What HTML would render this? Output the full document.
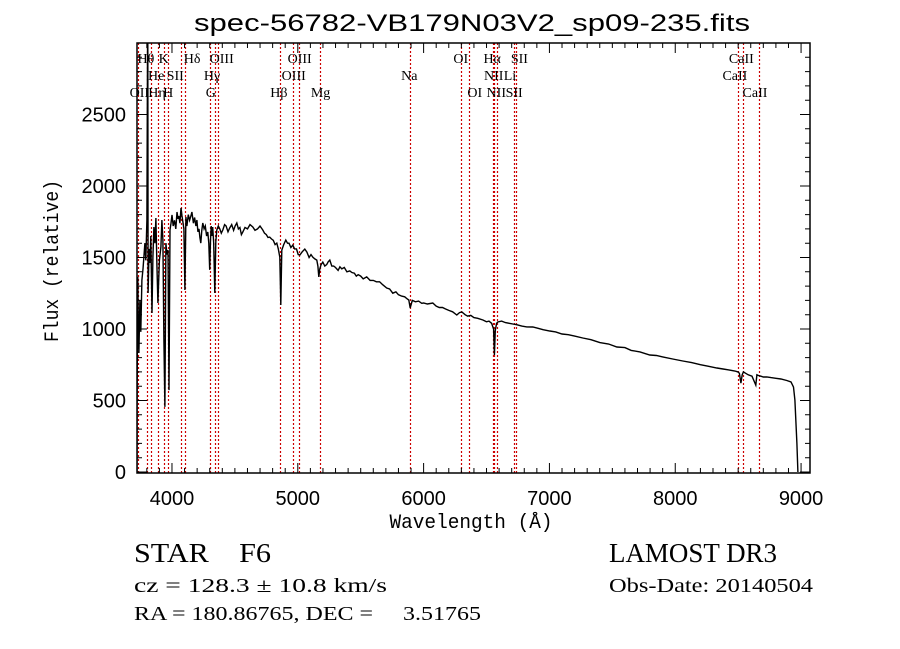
<!DOCTYPE html>
<html><head><meta charset="utf-8"><style>
html,body{margin:0;padding:0;background:#fff;}
svg{display:block;}
</style></head><body>
<svg id="chart" width="900" height="649" xmlns="http://www.w3.org/2000/svg" xml:space="preserve">
<rect x="0" y="0" width="900" height="649" fill="#fff"/>
<text x="472" y="31" font-family="Liberation Sans, sans-serif" font-size="24" text-anchor="middle" textLength="556" lengthAdjust="spacingAndGlyphs">spec-56782-VB179N03V2_sp09-235.fits</text>
<g id="lines"></g>
<g id="labels"></g>
<g id="series"></g>
<g id="axes"></g>
<text x="471" y="528" font-family="Liberation Mono, monospace" font-size="20" text-anchor="middle" textLength="163" lengthAdjust="spacingAndGlyphs">Wavelength (Å)</text>
<text transform="translate(58,261) rotate(-90)" font-family="Liberation Mono, monospace" font-size="20" text-anchor="middle" textLength="162" lengthAdjust="spacingAndGlyphs">Flux (relative)</text>
<text x="134" y="562" font-family="Liberation Serif, serif" font-size="27" textLength="137" lengthAdjust="spacingAndGlyphs">STAR&#160;&#160;&#160;&#160;F6</text>
<text x="609" y="562" font-family="Liberation Serif, serif" font-size="27" textLength="168" lengthAdjust="spacingAndGlyphs">LAMOST DR3</text>
<text x="134" y="592" font-family="Liberation Serif, serif" font-size="20" textLength="253" lengthAdjust="spacingAndGlyphs">cz = 128.3 ± 10.8 km/s</text>
<text x="609" y="592" font-family="Liberation Serif, serif" font-size="20" textLength="204" lengthAdjust="spacingAndGlyphs">Obs-Date: 20140504</text>
<text x="134" y="620" font-family="Liberation Serif, serif" font-size="20" textLength="347" lengthAdjust="spacingAndGlyphs">RA = 180.86765, DEC =&#160;&#160;&#160;&#160;&#160;3.51765</text>
</svg>
<script>
const wavelengths=[3722,3723,3728,3732,3737,3745,3752,3761,3770,3785,3792,3801,3806,3808,3810,3818,3825,3832,3841,3848,3856,3864,3872,3880,3888,3900,3912,3920,3928,3936,3944,3952,3960,3968,3976,3984,3992,4000,4010,4020,4030,4040,4048,4055,4063,4072,4080,4087,4095,4103,4111,4119,4130,4140,4150,4158,4170,4180,4190,4198,4206,4215,4222,4229,4237,4245,4255,4265,4275,4285,4293,4300,4306,4312,4318,4324,4332,4340,4348,4356,4368,4380,4392,4404,4418,4430,4445,4459,4475,4490,4502,4515,4528,4540,4552,4563,4580,4600,4620,4642,4660,4680,4700,4722,4735,4750,4763,4777,4790,4805,4820,4833,4845,4857,4865,4873,4888,4905,4918,4930,4945,4960,4975,4990,5003,5016,5035,5056,5072,5090,5105,5119,5135,5151,5160,5167,5175,5185,5199,5215,5230,5242,5254,5270,5285,5300,5320,5335,5350,5370,5390,5413,5430,5450,5465,5480,5500,5520,5548,5575,5600,5625,5650,5675,5707,5730,5755,5780,5800,5825,5850,5870,5882,5893,5910,5935,5960,5985,6000,6030,6073,6100,6125,6150,6175,6200,6230,6264,6285,6304,6330,6350,6375,6400,6430,6471,6500,6520,6540,6552,6556,6563,6570,6580,6590,6620,6650,6680,6709,6740,6780,6820,6868,6910,6950,7003,7050,7100,7150,7200,7265,7330,7400,7470,7536,7600,7650,7720,7798,7850,7900,7980,8060,8130,8200,8260,8331,8380,8420,8474,8498,8510,8522,8532,8542,8560,8580,8610,8640,8649,8662,8680,8700,8728,8760,8800,8840,8887,8920,8940,8951,8967,8975,8980];
const fluxes=[0,524,1364,1050,832,1200,980,1343,1420,1601,1480,1762,3100,3100,1252,1560,1462,1650,1112,1500,1713,1600,1776,1450,1182,1480,1573,1762,1620,923,455,1601,1520,1552,573,1692,1740,1797,1720,1760,1700,1818,1770,1790,1740,1846,1790,1748,1700,1273,1783,1720,1800,1760,1790,1818,1740,1780,1720,1762,1680,1700,1640,1601,1690,1741,1700,1720,1650,1678,1600,1413,1620,1720,1650,1713,1600,1252,1610,1692,1720,1700,1670,1692,1730,1720,1680,1706,1730,1690,1720,1741,1700,1710,1660,1678,1710,1700,1730,1713,1690,1700,1720,1692,1670,1660,1640,1643,1630,1620,1590,1601,1560,1503,1168,1552,1590,1622,1600,1600,1570,1587,1560,1560,1520,1517,1540,1559,1538,1500,1520,1503,1490,1482,1440,1364,1420,1450,1468,1440,1450,1470,1482,1440,1440,1430,1410,1435,1420,1430,1400,1406,1395,1390,1370,1380,1370,1350,1364,1340,1340,1330,1330,1310,1287,1280,1250,1260,1240,1230,1225,1210,1203,1147,1200,1190,1195,1180,1182,1175,1182,1160,1150,1150,1140,1130,1120,1098,1115,1119,1100,1090,1095,1080,1075,1063,1050,1055,1040,1010,1000,818,990,1040,1049,1055,1045,1040,1035,1030,1020,1015,1014,1005,995,986,980,965,960,950,937,925,905,895,874,870,850,840,818,815,805,790,776,765,750,740,727,720,715,706,700,690,622,680,700,690,680,670,608,680,675,670,664,665,660,655,650,640,630,594,503,200,0];
const labelNames=["OII","Hθ","Hη","He","K","H","SII","Hδ","G","Hγ","OIII","Hβ","OIII","OIII","Mg","Na","OI","OI","NII","Hα","NII","SII","Li","SII","CaII","CaII","CaII"];
const labelWaves=[3727,3798,3835,3889,3934,3969,4069,4102,4300,4341,4363,4861,4959,5007,5175,5893,6300,6364,6548,6563,6583,6717,6708,6731,8498,8542,8662];
const labelRows=[2,0,2,1,0,2,1,0,2,1,0,2,0,1,2,1,0,2,2,0,1,0,1,2,0,1,2];
const labelDx=[-8,-9,-3,-10,-5,-5,-14,-1,-4,-11,-8,-10,-5,-17,-9,-9,-8,-2,-6,-11,-13,-3,-9,-10,-9,-21,-16];
const xTicks=[4000,5000,6000,7000,8000,9000];
const yTicks=[0,500,1000,1500,2000,2500];
const XMIN=3722,XMAX=9071,YMIN=-7,YMAX=3000;
const L=137,R=810,T=43,B=473;
const NS='http://www.w3.org/2000/svg';
function xs(w){return L+(w-XMIN)/(XMAX-XMIN)*(R-L);}
function ys(v){return B-(v-YMIN)/(YMAX-YMIN)*(B-T);}
function mk(tag,attrs,parent){const e=document.createElementNS(NS,tag);for(const k in attrs)e.setAttribute(k,attrs[k]);parent.appendChild(e);return e;}
const gL=document.getElementById('lines'),gT=document.getElementById('labels'),gS=document.getElementById('series'),gA=document.getElementById('axes');
const dropLines=[3727,3798,3835,3889,3934,3969,4069,4102,4300,4341,4363,4861,4959,5007,5175,5893,6300,6364,6548,6563,6583,6717,6731,8498,8542,8662];
dropLines.forEach(w=>{
  const x=Math.round(xs(w))+0.5;
  const ln=mk('line',{x1:x,x2:x,y1:T,y2:B,stroke:'#cc0000','stroke-width':1.2,'stroke-dasharray':'2,2'},gL);
  
  
});
const rowY=[63,80,97];
labelNames.forEach((n,i)=>{
  const t=mk('text',{x:xs(labelWaves[i])+labelDx[i],y:rowY[labelRows[i]],'font-family':'Liberation Serif, serif','font-size':14},gT);
  t.textContent=n;
  
  
});
const clip=mk('clipPath',{id:'pc'},document.getElementById('chart'));
mk('rect',{x:L,y:T,width:R-L,height:B-T},clip);
let d='';
wavelengths.forEach((w,i)=>{d+=(i?'L':'M')+xs(w).toFixed(1)+','+ys(fluxes[i]).toFixed(1);});
const p=mk('path',{d:d,fill:'none',stroke:'#000','stroke-width':1.4,'clip-path':'url(#pc)'},gS);


const frame=mk('rect',{x:L,y:T,width:R-L,height:B-T,fill:'none',stroke:'#000','stroke-width':1.5},gA);


let td='';
for(let w=3800;w<=XMAX;w+=100){const x=xs(w);const big=w%1000===0;const len=big?10:5;td+=`M${x},${B}v${-len}M${x},${T}v${len}`;}
for(let v=0;v<=YMAX;v+=100){const y=ys(v);const big=v%500===0;const len=big?10:5;td+=`M${L},${y}h${len}M${R},${y}h${-len}`;}
const tk=mk('path',{d:td,stroke:'#000','stroke-width':1},gA);


xTicks.forEach(w=>{
  const t=mk('text',{x:xs(w),y:505,'text-anchor':'middle','font-family':'Liberation Sans, sans-serif','font-size':20},gA);
  t.textContent=w;
  
  
});
yTicks.forEach(v=>{
  const t=mk('text',{x:126,y:ys(v)+7,'text-anchor':'end','font-family':'Liberation Sans, sans-serif','font-size':20},gA);
  t.textContent=v;
  
  
});
</script>
</body></html>
